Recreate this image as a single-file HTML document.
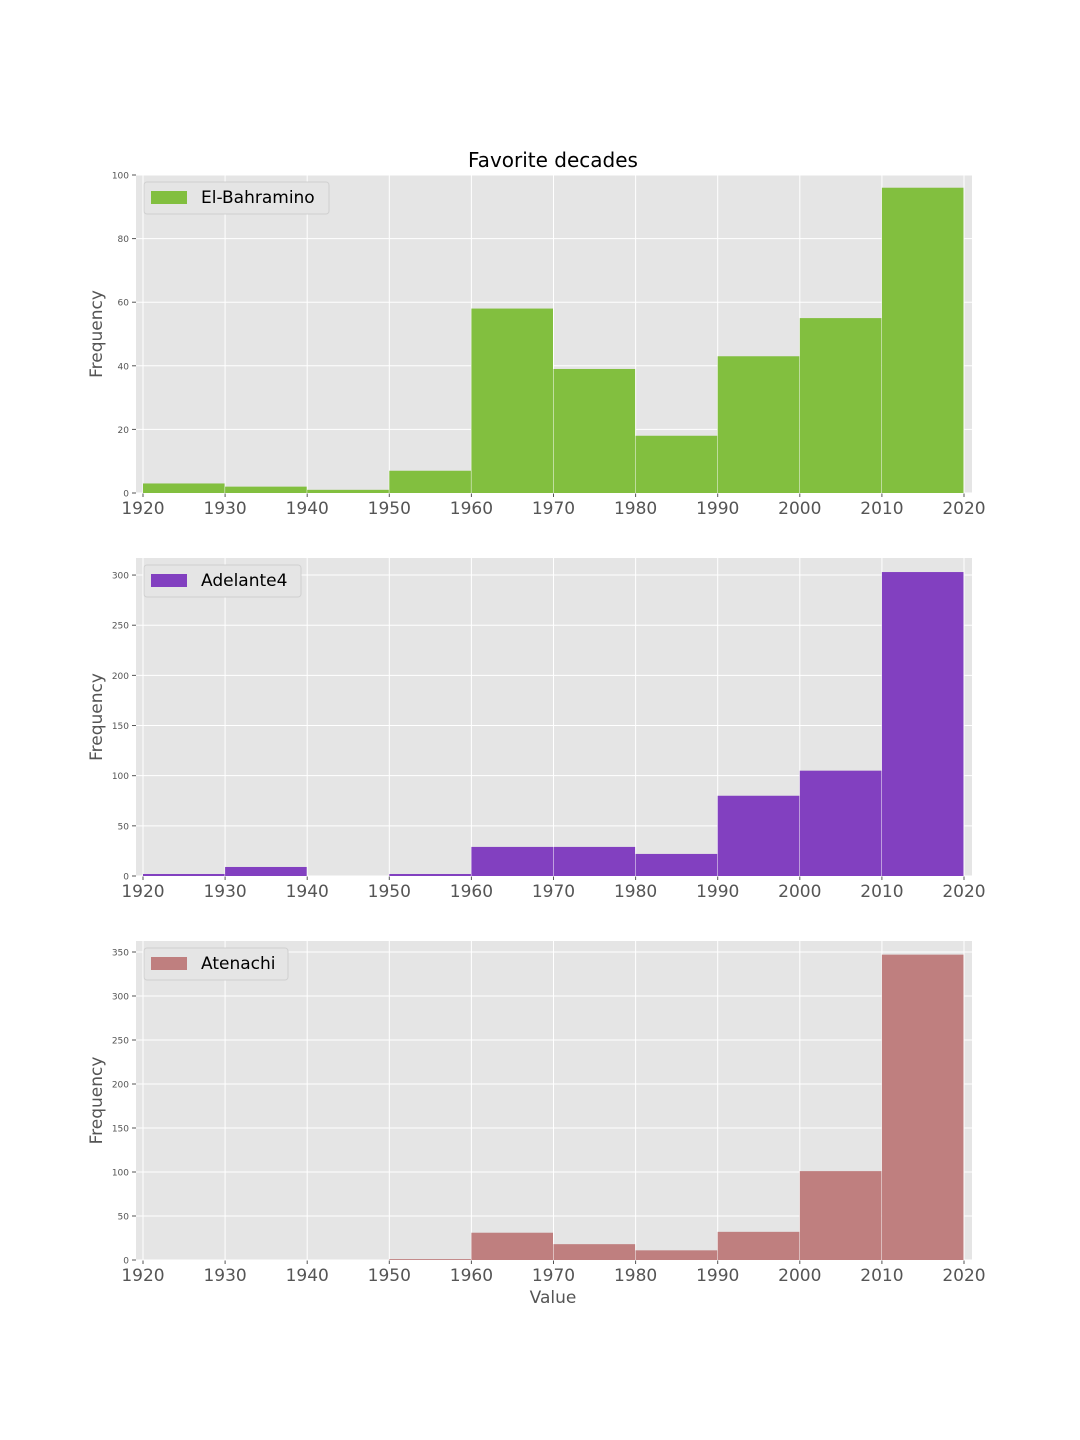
<!DOCTYPE html>
<html><head><meta charset="utf-8"><style>
body{margin:0;background:#fff;}
svg{display:block;font-family:"DejaVu Sans","Liberation Sans",sans-serif;}
</style></head><body>
<svg id="chart" width="1080" height="1440" viewBox="0 0 1080 1440" xmlns="http://www.w3.org/2000/svg">
<text x="553" y="167" font-size="20" text-anchor="middle" fill="#000">Favorite decades</text>
<text x="553" y="1303" font-size="17" text-anchor="middle" fill="#555">Value</text>
</svg>
<script>
const decades = [1920,1930,1940,1950,1960,1970,1980,1990,2000,2010];
const xTicks = [1920,1930,1940,1950,1960,1970,1980,1990,2000,2010,2020];
const seriesNames = ["El-Bahramino","Adelante4","Atenachi"];
const valuesElBahramino = [3,2,1,7,58,39,18,43,55,96];
const valuesAdelante4 = [2,9,0,2,29,29,22,80,105,303];
const valuesAtenachi = [0,0,0,1,31,18,11,32,101,347];
const yTicks1 = [0,20,40,60,80,100];
const yTicks2 = [0,50,100,150,200,250,300];
const yTicks3 = [0,50,100,150,200,250,300,350];

const NS="http://www.w3.org/2000/svg";
const svg=document.getElementById('chart');
function mk(tag,attrs,parent){const e=document.createElementNS(NS,tag);for(const k in attrs)e.setAttribute(k,attrs[k]);(parent||svg).appendChild(e);return e;}
const L=136,R=972;
function xs(v){return 143+(v-1920)*8.21;}
const panels=[
 {name:"el-bahramino",label:seriesNames[0],vals:valuesElBahramino,ticks:yTicks1,top:175,bot:493,ymax:100,color:"#82bf3f",legW:185},
 {name:"adelante4",label:seriesNames[1],vals:valuesAdelante4,ticks:yTicks2,top:558,bot:876,ymax:317,color:"#8240c0",legW:157},
 {name:"atenachi",label:seriesNames[2],vals:valuesAtenachi,ticks:yTicks3,top:941,bot:1260,ymax:362.5,color:"#bf7f7f",legW:144}
];
panels.forEach(p=>{
 const g=mk('g',{});
 
 
 const ys=v=>p.bot-v*(p.bot-p.top)/p.ymax;
 const bg=mk('rect',{x:L,y:p.top,width:R-L,height:p.bot-p.top,fill:'#e5e5e5'},g);
 
 
 xTicks.forEach(t=>{
  const l=mk('line',{x1:xs(t),x2:xs(t),y1:p.top,y2:p.bot,stroke:'#fff','stroke-width':1},g);
  
  
  mk('line',{x1:xs(t),x2:xs(t),y1:p.bot,y2:p.bot+4,stroke:'#555'},g);
  const tx=mk('text',{x:xs(t),y:p.bot+21,'font-size':17,'text-anchor':'middle',fill:'#555'},g);
  tx.textContent=t;
  
  
 });
 p.ticks.forEach(t=>{
  const l=mk('line',{x1:L,x2:R,y1:ys(t),y2:ys(t),stroke:'#fff','stroke-width':1},g);
  
  
  mk('line',{x1:L-4,x2:L,y1:ys(t),y2:ys(t),stroke:'#555'},g);
  const tx=mk('text',{x:L-7,y:ys(t)+3.5,'font-size':9,'text-anchor':'end',fill:'#555'},g);
  tx.textContent=t;
  
  
 });
 decades.forEach((d,i)=>{
  const v=p.vals[i];
  if(v<=0)return;
  const b=mk('rect',{x:xs(d),y:ys(v),width:xs(d+10)-xs(d)-0.5,height:p.bot-ys(v),fill:p.color},g);
  
  
 });
 const yt=mk('text',{x:0,y:0,'font-size':17,'text-anchor':'middle',fill:'#555',transform:`translate(102,${(p.top+p.bot)/2}) rotate(-90)`},g);
 yt.textContent='Frequency';
 
 
 const lg=mk('g',{},g);
 
 
 mk('rect',{x:144,y:p.top+7,width:p.legW,height:32,rx:3,fill:'#e5e5e5',stroke:'#d0d0d0'},lg);
 mk('rect',{x:151,y:p.top+16,width:36,height:13,fill:p.color},lg);
 const lt=mk('text',{x:201,y:p.top+28,'font-size':17,fill:'#000'},lg);
 lt.textContent=p.label;
 
 
});
</script>
</body></html>
